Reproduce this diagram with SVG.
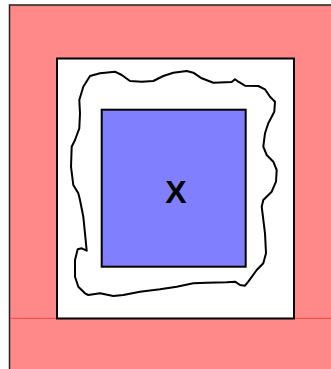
<svg xmlns="http://www.w3.org/2000/svg" width="331" height="369" viewBox="0 0 331 369">
<style>
.box{stroke:#000;stroke-width:2}
.wavy{fill:none;stroke:#000;stroke-width:2;stroke-linejoin:round;stroke-linecap:round}
.lbl{font-family:"Liberation Sans",Arial,sans-serif;font-weight:bold;font-size:32px;fill:#000}
</style>
<rect width="331" height="369" fill="#fff"/>
<g id="outer">
<rect x="9.5" y="5" width="330" height="370" fill="#ff8888" stroke="#222" stroke-width="1.5"/>
<line x1="10" y1="318.3" x2="331" y2="318.3" stroke="#ff4040" stroke-width="1"/>
</g>
<g id="frame">
<rect class="box" x="57" y="58.5" width="237" height="260" fill="#fff"/>
</g>
<g id="blob">
<path class="wavy" d="M90,76 L100,73.3 L115,71.7 L121.7,75 L130,81 L141.7,81.7 L153.3,81 L163.3,76 L173.3,72.7 L186.7,71 L193.3,72.7 L201.7,78.3 L213.3,82.7 L231.7,82 L235,79.3 L238.3,81.7 L245,85.7 L258.3,86 L265,89.3 L270,96.7 L275,101.7 L274.3,111.7 L268.3,123.3 L265,133.3 L263.3,146.7 L266.7,155 L273.3,161.7 L276.7,170 L276,181.7 L271.7,191.7 L263.3,200 L261.7,206.7 L265,233.3 L266,253.3 L263.3,263.3 L256.7,270 L248.3,281.7 L245,285.7 L240,285 L235,281.7 L226.7,282.3 L206.7,282.7 L193.3,283.3 L176.7,286.7 L160,289.3 L140,291.7 L123.3,295 L113.3,296 L100,293.3 L88.3,295 L85,293.3 L78.3,286.7 L75,276.7 L75,260 L77.7,249.3 L81.7,248.3 L86.7,250.7 L85,233.3 L83.3,216.7 L80,200 L78.3,193.3 L73.3,185 L71,166.7 L71.7,146.7 L75,140 L79.3,128.3 L80,113.3 L79.3,100 L83.3,86.7 Z"/>
</g>
<g id="x">
<rect class="box" x="101.7" y="109.7" width="144" height="157" fill="#8080ff"/>
<text class="lbl" x="176" y="202.5" text-anchor="middle">X</text>
</g>
</svg>
